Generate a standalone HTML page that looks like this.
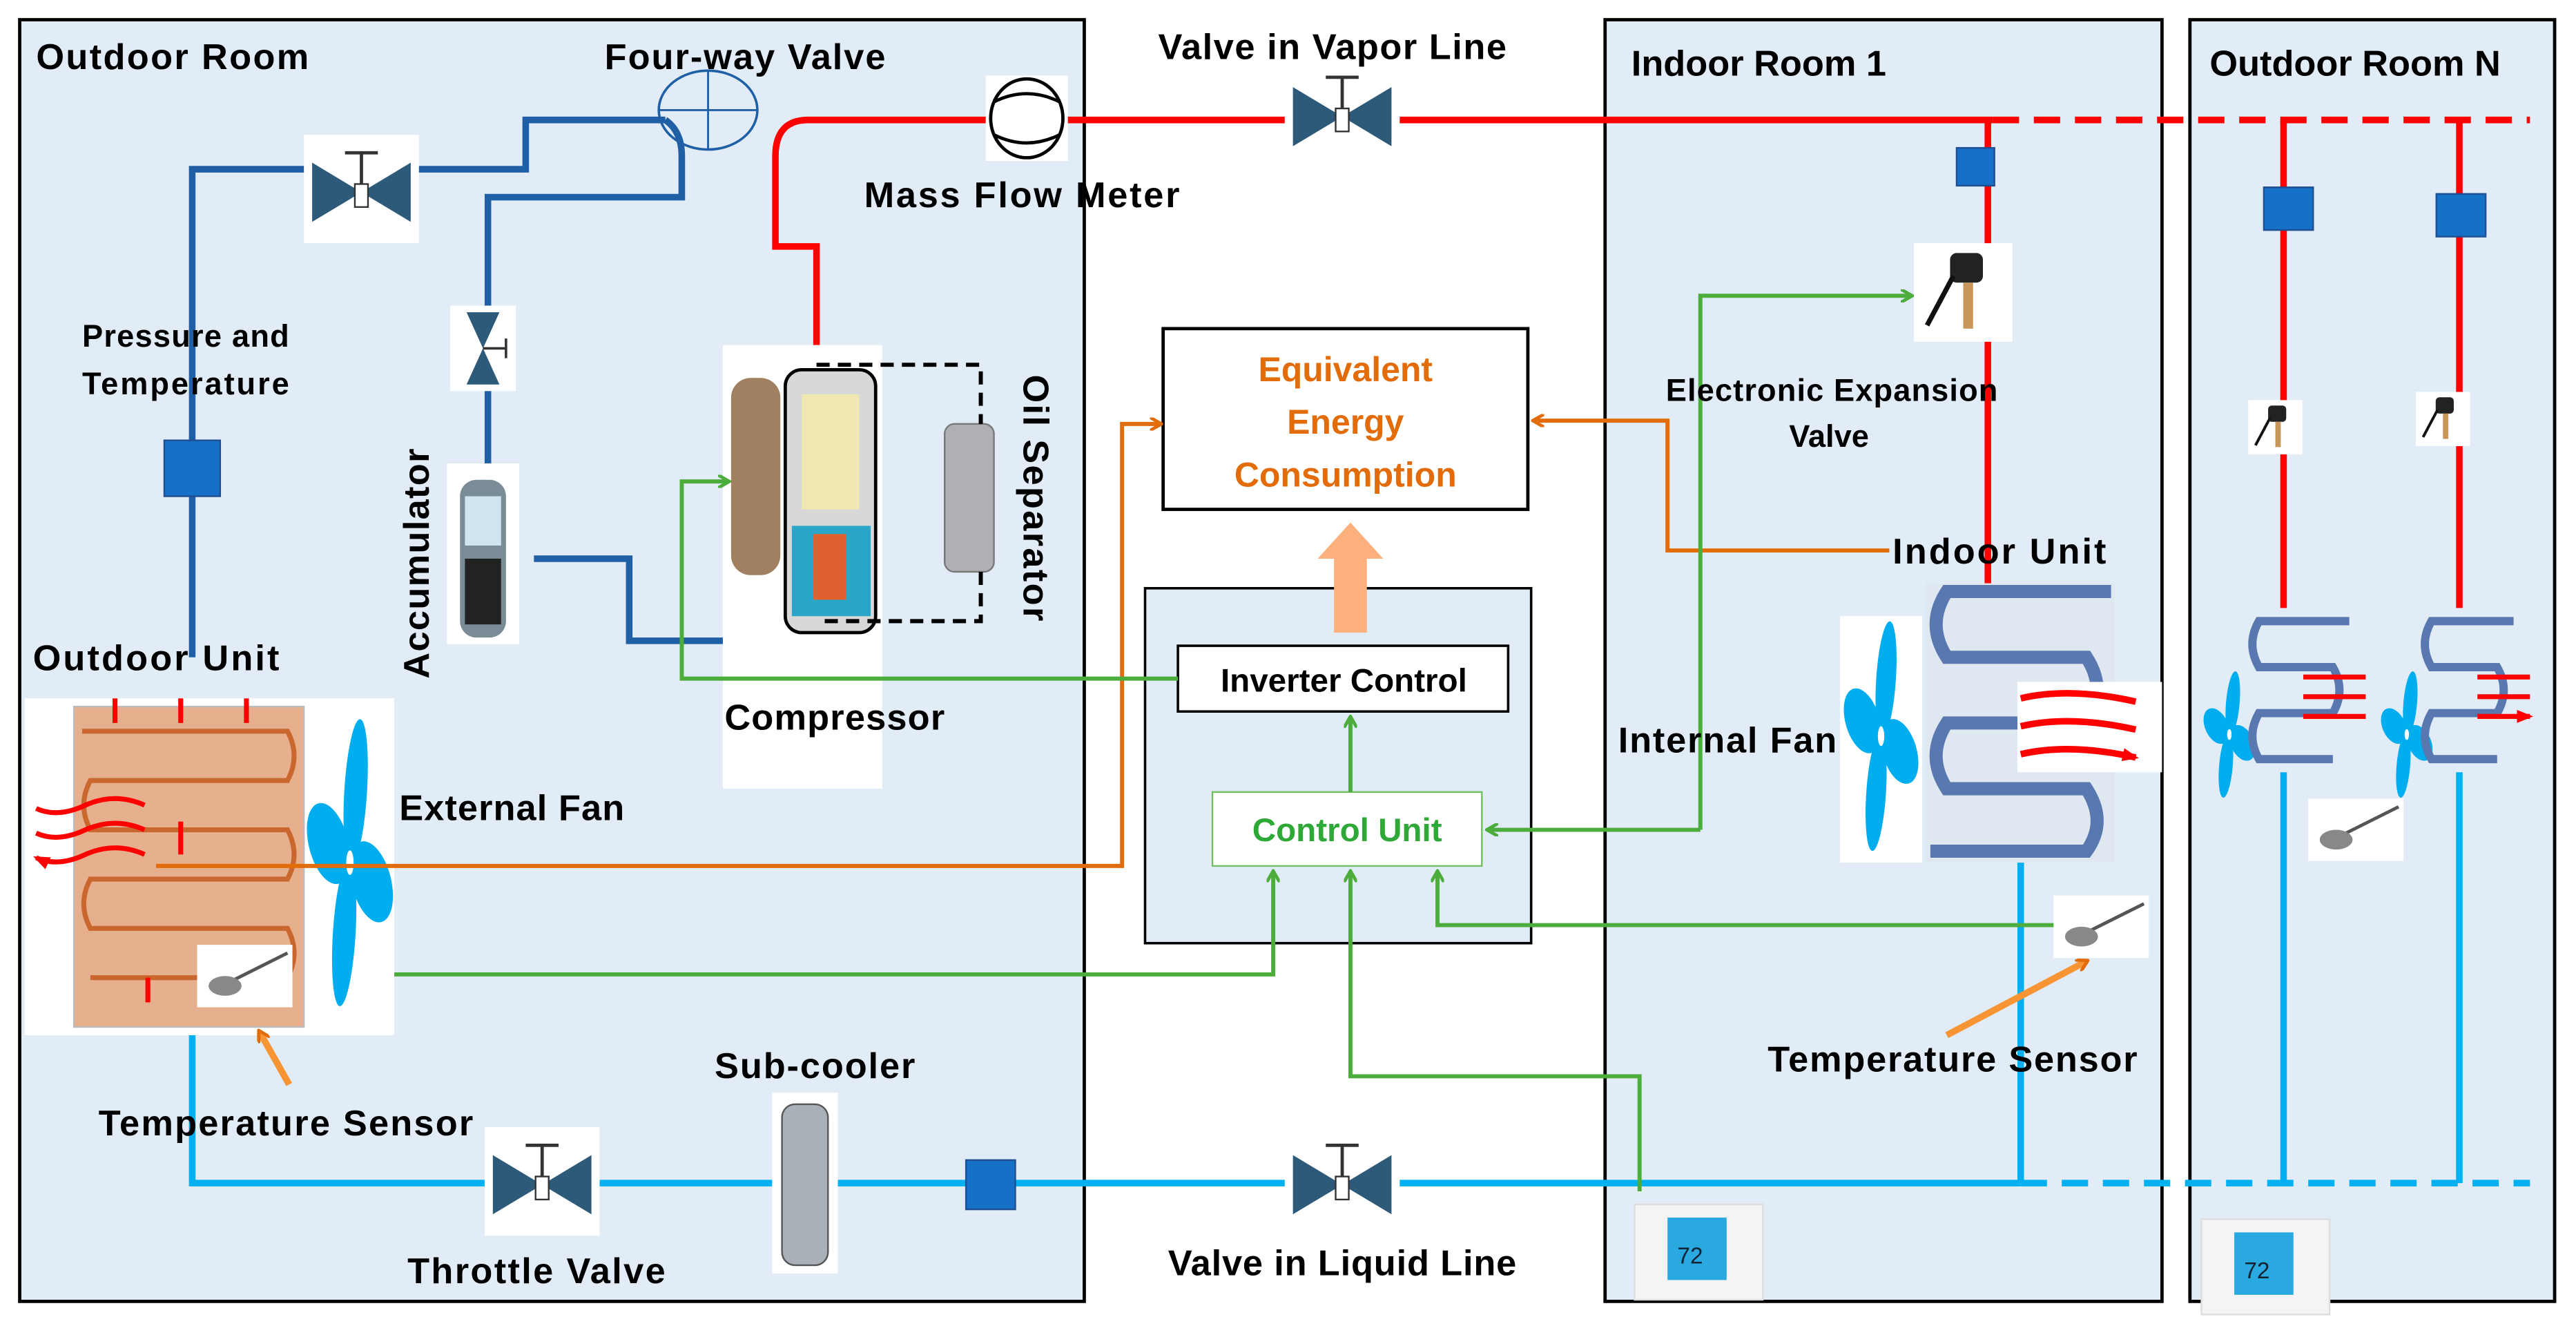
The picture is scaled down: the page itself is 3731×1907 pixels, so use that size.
<!DOCTYPE html>
<html><head><meta charset="utf-8"><style>
html,body{margin:0;padding:0;background:#fff}
svg{display:block}
text{font-family:"Liberation Sans",sans-serif;font-weight:bold;fill:#000}
</style></head><body>
<svg width="3731" height="1907" viewBox="0 0 1568 801.5" preserveAspectRatio="none" xmlns="http://www.w3.org/2000/svg">
<defs>
<marker id="ag" markerWidth="8" markerHeight="8" refX="6" refY="4" orient="auto" markerUnits="userSpaceOnUse"><path d="M0,0 L7,4 L0,8" fill="none" stroke="#4cad3c" stroke-width="2"/></marker>
<marker id="ao" markerWidth="8" markerHeight="8" refX="6" refY="4" orient="auto" markerUnits="userSpaceOnUse"><path d="M0,0 L7,4 L0,8" fill="none" stroke="#e36c0a" stroke-width="2"/></marker>
<marker id="ar" markerWidth="10" markerHeight="8" refX="8" refY="4" orient="auto" markerUnits="userSpaceOnUse"><path d="M0,0 L10,4 L0,8z" fill="#f00"/></marker>
<g id="fan"><ellipse cx="0" cy="-18" rx="9" ry="18" fill="#00adef" transform="rotate(15)"/><ellipse cx="0" cy="-18" rx="9" ry="18" fill="#00adef" transform="rotate(105)"/><ellipse cx="0" cy="-18" rx="9" ry="18" fill="#00adef" transform="rotate(195)"/><ellipse cx="0" cy="-18" rx="9" ry="18" fill="#00adef" transform="rotate(285)"/><circle r="3" fill="#fff"/></g>
<g id="valve"><rect x="-35" y="-35" width="70" height="66" fill="#fff"/><path d="M-30,-18 L0,0 L-30,18z M30,-18 L0,0 L30,18z" fill="#2e5a7a"/><path d="M0,-24 V-5 M-10,-24 H10" stroke="#333" stroke-width="2"/><rect x="-4" y="-5" width="8" height="14" fill="#fff" stroke="#333"/></g>
<g id="eev"><rect x="-30" y="-30" width="60" height="60" fill="#fff"/><rect x="-8" y="-24" width="20" height="18" rx="4" fill="#222"/><rect x="0" y="-6" width="6" height="28" fill="#c8955a"/><path d="M-6,-10 L-22,20" stroke="#111" stroke-width="3"/></g>
<g id="tstat"><rect x="0" y="0" width="78" height="58" fill="#f4f4f4" stroke="#ddd"/><rect x="20" y="8" width="36" height="38" fill="#2aa8e0"/><text x="26" y="36" font-size="14" style="fill:#123;font-weight:normal">72</text></g>
<g id="sensor"><rect x="0" y="0" width="58" height="38" fill="#fff"/><path d="M15,25 L55,5" stroke="#555" stroke-width="2"/><ellipse cx="17" cy="25" rx="10" ry="6" fill="#888"/></g>
</defs>

<rect x="12" y="12" width="648" height="780" fill="#e1ecf7" stroke="#000" stroke-width="2"/>
<rect x="977" y="12" width="339" height="780" fill="#e1ecf7" stroke="#000" stroke-width="2"/>
<rect x="1333" y="12" width="222" height="780" fill="#e1ecf7" stroke="#000" stroke-width="2"/>
<rect x="697" y="358" width="235" height="216" fill="#e1ecf7" stroke="#000" stroke-width="1.5"/>

<g fill="none" stroke="#1f5fa6" stroke-width="4">
<path d="M117,400 V103 H320 V73 H405"/>
<path d="M405,73 Q415,80 415,95 V120 H297 V290"/>
<path d="M325,340 H383 V390 H497 V375"/>
</g>
<g fill="none" stroke="#f00" stroke-width="4">
<path d="M497,210 V150 H472 V95 Q472,73 492,73 H1213"/>
<path d="M1213,73 H1540" stroke-dasharray="16,9"/>
<path d="M1210,73 V355"/>
<path d="M1390,73 V370"/><path d="M1497,73 V370"/>
</g>
<g fill="none" stroke="#00b0f0" stroke-width="4">
<path d="M117,625 V720 H1230"/>
<path d="M1230,720 H1540" stroke-dasharray="16,9"/>
<path d="M1230,510 V720"/><path d="M1390,470 V720"/><path d="M1497,470 V720"/>
</g>
<ellipse cx="431" cy="67" rx="30" ry="24" fill="none" stroke="#1f5fa6" stroke-width="1.5"/>
<path d="M401,67 H461 M431,43 V91" stroke="#1f5fa6" stroke-width="1.2"/>
<rect x="600" y="46" width="50" height="52" fill="#fff"/>
<ellipse cx="625" cy="72" rx="22" ry="24" fill="#fff" stroke="#000" stroke-width="2"/>
<path d="M605,62 Q625,52 645,62 M605,82 Q625,92 645,82" fill="none" stroke="#000" stroke-width="2"/>

<use href="#valve" x="220" y="117"/>
<use href="#valve" x="817" y="71"/>
<use href="#valve" x="330" y="721"/>
<use href="#valve" x="817" y="721"/>
<g transform="translate(294,212) rotate(90)"><rect x="-26" y="-20" width="52" height="40" fill="#fff"/><path d="M-22,-10 L0,0 L-22,10z M22,-10 L0,0 L22,10z" fill="#2e5a7a"/><path d="M0,0 V-14 M-6,-14 H6" stroke="#333" stroke-width="1.5"/></g>

<rect x="100" y="268" width="34" height="34" fill="#1670c8" stroke="#1f4f90"/>
<rect x="588" y="706" width="30" height="30" fill="#1670c8" stroke="#1f4f90"/>
<rect x="1191" y="90" width="23" height="23" fill="#1670c8" stroke="#1f4f90"/>
<rect x="1378" y="114" width="30" height="26" fill="#1670c8" stroke="#1f4f90"/>
<rect x="1483" y="118" width="30" height="26" fill="#1670c8" stroke="#1f4f90"/>

<rect x="272" y="282" width="44" height="110" fill="#fff"/>
<rect x="280" y="292" width="28" height="96" rx="10" fill="#7a8c96"/>
<rect x="283" y="302" width="22" height="30" fill="#cfe5f0"/>
<rect x="283" y="340" width="22" height="40" fill="#222"/>
<rect x="440" y="210" width="97" height="270" fill="#fff"/>
<rect x="445" y="230" width="30" height="120" rx="12" fill="#a08060"/>
<rect x="478" y="225" width="55" height="160" rx="10" fill="#d8d8d8" stroke="#000" stroke-width="2"/>
<rect x="488" y="240" width="35" height="70" fill="#f0e8b0"/>
<rect x="482" y="320" width="48" height="55" fill="#2aa6c8"/>
<rect x="495" y="325" width="20" height="40" fill="#e06030"/>
<rect x="575" y="258" width="30" height="90" rx="6" fill="#b0b0b4" stroke="#777"/>
<path d="M497,222 H597 V258 M597,348 V378 H497" fill="none" stroke="#000" stroke-width="2.5" stroke-dasharray="8,5"/>

<rect x="15" y="425" width="225" height="205" fill="#fff"/>
<rect x="45" y="430" width="140" height="195" fill="#e6b08e" stroke="#bbb"/>
<g fill="none" stroke="#c9672e" stroke-width="3">
<path d="M50,445 H175 Q183,460 175,475 H55 Q47,490 55,505 H175 Q183,520 175,535 H55 Q47,550 55,565 H175 Q183,580 175,595 H55"/>
</g>
<g fill="none" stroke="#f00" stroke-width="3">
<path d="M70,440 V425 M110,440 V425 M150,440 V425 M110,520 V500 M90,610 V595 M150,610 V595" marker-end="url(#ar)"/>
<path d="M88,490 Q70,482 52,490 Q35,498 22,492 M88,505 Q70,497 52,505 Q35,513 22,507 M88,520 Q70,512 52,520 Q35,528 22,522" marker-end="url(#ar)"/>
</g>
<g transform="translate(213,525) scale(0.75,2.5)"><use href="#fan"/></g>
<use href="#sensor" x="120" y="575"/>
<path d="M176,660 L158,628" stroke="#f79433" stroke-width="4" marker-end="url(#ao)"/>

<rect x="1120" y="375" width="50" height="150" fill="#fff"/>
<g transform="translate(1145,448) scale(0.65,2.0)"><use href="#fan"/></g>
<rect x="1172" y="355" width="115" height="170" fill="#dfe8f0"/>
<path d="M1285,360 H1185 Q1172,380 1185,400 H1270 Q1283,420 1270,440 H1185 Q1172,460 1185,480 H1270 Q1283,500 1270,518 H1175" fill="none" stroke="#5a78b0" stroke-width="8"/>
<rect x="1228" y="415" width="88" height="55" fill="#fff"/>
<g stroke="#f00" stroke-width="4" fill="none"><path d="M1230,425 Q1260,418 1300,427 M1230,442 Q1260,435 1300,444 M1230,459 Q1260,452 1300,461" marker-end="url(#ar)"/></g>
<use href="#eev" x="1195" y="178"/>
<use href="#sensor" x="1250" y="545"/>
<path d="M1185,630 L1270,585" stroke="#f79433" stroke-width="4" marker-end="url(#ao)"/>
<use href="#tstat" x="995" y="733"/>

<g transform="translate(1385,260) scale(0.55)"><use href="#eev"/></g>
<g transform="translate(1487,255) scale(0.55)"><use href="#eev"/></g>
<g transform="translate(1357,447) scale(0.45,1.1)"><use href="#fan"/></g>
<g transform="translate(1465,447) scale(0.45,1.1)"><use href="#fan"/></g>
<g fill="none" stroke="#5a78b0" stroke-width="5">
<path d="M1430,378 H1375 Q1367,392 1375,406 H1420 Q1428,420 1420,434 H1375 Q1367,448 1375,462 H1420"/>
<path d="M1530,378 H1480 Q1472,392 1480,406 H1520 Q1528,420 1520,434 H1480 Q1472,448 1480,462 H1520"/>
</g>
<g stroke="#f00" stroke-width="3" fill="none"><path d="M1402,412 H1440 M1402,424 H1440 M1402,436 H1440 M1508,412 H1540 M1508,424 H1540 M1508,436 H1540" marker-end="url(#ar)"/></g>
<use href="#sensor" x="1405" y="486"/>
<use href="#tstat" x="1340" y="742"/>

<rect x="708" y="200" width="222" height="110" fill="#fff" stroke="#000" stroke-width="2"/>
<text x="819" y="232" font-size="21" text-anchor="middle" style="fill:#e36c0a">Equivalent</text>
<text x="819" y="264" font-size="21" text-anchor="middle" style="fill:#e36c0a">Energy</text>
<text x="819" y="296" font-size="21" text-anchor="middle" style="fill:#e36c0a">Consumption</text>
<path d="M812,385 V340 H802 L822,318 L842,340 H832 V385z" fill="#fbb07e"/>
<rect x="717" y="393" width="201" height="40" fill="#fff" stroke="#000" stroke-width="1.5"/>
<text x="818" y="421" font-size="20" text-anchor="middle">Inverter Control</text>
<rect x="738" y="482" width="164" height="45" fill="#fff" stroke="#70c060" stroke-width="1"/>
<text x="820" y="512" font-size="20" text-anchor="middle" style="fill:#2ea836">Control Unit</text>

<g fill="none" stroke="#e36c0a" stroke-width="2.5">
<path d="M95,527 H683 V258 H706" marker-end="url(#ao)"/>
<path d="M1150,335 H1015 V256 H934" marker-end="url(#ao)"/>
</g>
<g fill="none" stroke="#4cad3c" stroke-width="2.5">
<path d="M717,413 H415 V293 H443" marker-end="url(#ag)"/>
<path d="M240,593 H775 V531" marker-end="url(#ag)"/>
<path d="M998,725 V655 H822 V531" marker-end="url(#ag)"/>
<path d="M1250,563 H875 V531" marker-end="url(#ag)"/>
<path d="M1035,505 H906" marker-end="url(#ag)"/>
<path d="M1035,505 V180 H1163" marker-end="url(#ag)"/>
<path d="M822,482 V437" marker-end="url(#ag)"/>
</g>

<g font-size="22">
<text x="22" y="42" textLength="166">Outdoor Room</text>
<text x="368" y="42" textLength="171">Four-way Valve</text>
<text x="705" y="36" textLength="212">Valve in Vapor Line</text>
<text x="993" y="46">Indoor Room 1</text>
<text x="1345" y="46">Outdoor Room N</text>
<text x="526" y="126" textLength="192">Mass Flow Meter</text>
<text x="50" y="211" font-size="19" textLength="126">Pressure and</text>
<text x="50" y="240" font-size="19" textLength="126">Temperature</text>
<text x="20" y="408" textLength="150">Outdoor Unit</text>
<text x="243" y="499" textLength="137">External Fan</text>
<text x="441" y="444" textLength="134">Compressor</text>
<text x="1014" y="244" font-size="19" textLength="202">Electronic Expansion</text>
<text x="1089" y="272" font-size="19">Valve</text>
<text x="1152" y="343" textLength="130">Indoor Unit</text>
<text x="985" y="458" textLength="133">Internal Fan</text>
<text x="1076" y="652" textLength="225">Temperature Sensor</text>
<text x="60" y="691" textLength="228">Temperature Sensor</text>
<text x="435" y="656" textLength="122">Sub-cooler</text>
<text x="248" y="781" textLength="157">Throttle Valve</text>
<text x="711" y="776" textLength="212">Valve in Liquid Line</text>
<text transform="translate(261,413) rotate(-90)" textLength="140">Accumulator</text>
<text transform="translate(623,228) rotate(90)" textLength="150">Oil Separator</text>
</g>
<rect x="470" y="665" width="40" height="110" fill="#fff"/>
<rect x="476" y="672" width="28" height="98" rx="8" fill="#aab0b8" stroke="#555"/>
</svg>
</body></html>
